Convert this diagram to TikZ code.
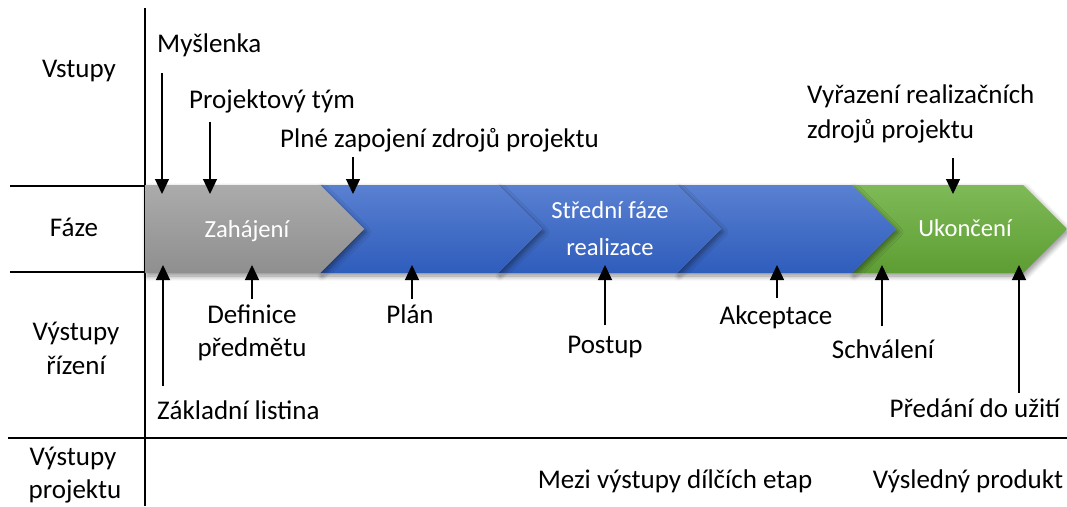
\documentclass[tikz,border=0pt]{standalone}
\usepackage{fontspec}
\setmainfont{Carlito}
\usetikzlibrary{arrows.meta,shadows.blur}

\definecolor{greytop}{HTML}{ABABAB}
\definecolor{greybot}{HTML}{8F8F8F}
\definecolor{bluetop}{HTML}{5A80D1}
\definecolor{bluebot}{HTML}{2E5DBC}
\definecolor{greentop}{HTML}{7EBA57}
\definecolor{greenbot}{HTML}{5E9D33}

\begin{document}
\begin{tikzpicture}[x=1pt,y=-1pt,
  lbl/.style={font=\fontsize{27}{34}\selectfont, inner sep=0pt, text=black},
  phase/.style={font=\fontsize{24.6}{37}\selectfont, inner sep=0pt, text=white},
  gridline/.style={line width=1.2pt, draw=black},
  ptr/.style={line width=1.3pt, draw=black, -{Triangle[width=14pt,length=15pt]}},
  chev/.style={blur shadow={shadow xshift=2pt, shadow yshift=-3pt,
      shadow blur steps=8, shadow blur radius=5pt, shadow opacity=45}},
  greyfill/.style={chev, top color=greytop, bottom color=greybot},
  bluefill/.style={chev, top color=bluetop, bottom color=bluebot},
  greenfill/.style={chev, top color=greentop, bottom color=greenbot}
]
\useasboundingbox (0,0) rectangle (1067,506);

% table frame
\draw[gridline] (145,8) -- (145,506);
\draw[gridline] (10,186) -- (145,186);
\draw[gridline] (10,272) -- (145,272);
\draw[gridline] (8,438) -- (1067,438);

% phase chevrons, drawn right to left so each one lies over the next
\path[greenfill] (852,185) -- (1023,185) -- (1067,229) -- (1023,273) -- (852,273) -- (896,229) -- cycle;
\path[bluefill]  (677,185) -- (852,185) -- (896,229) -- (852,273) -- (677,273) -- (721,229) -- cycle;
\path[bluefill]  (498,185) -- (677,185) -- (721,229) -- (677,273) -- (498,273) -- (542,229) -- cycle;
\path[bluefill]  (320,185) -- (498,185) -- (542,229) -- (498,273) -- (320,273) -- (364,229) -- cycle;
\path[greyfill]  (145,185) -- (320,185) -- (364,229) -- (320,273) -- (145,273) -- cycle;

% phase names
\node[phase, anchor=base] (zah)  at (247,237) {Zahájení};
\node[phase, anchor=base] (str1) at (610,218) {Střední fáze};
\node[phase, anchor=base] (str2) at (610,255) {realizace};
\node[phase, anchor=base] (uko)  at (965,236) {Ukončení};

% row headings
\node[lbl, anchor=base] (vstupy) at (79,77)  {Vstupy};
\node[lbl, anchor=base] (faze)   at (74,236) {Fáze};
\node[lbl, anchor=base] (vyr1)   at (76,340) {Výstupy};
\node[lbl, anchor=base] (vyr2)   at (76,374) {řízení};
\node[lbl, anchor=base] (vyp1)   at (73,465) {Výstupy};
\node[lbl, anchor=base] (vyp2)   at (75,498) {projektu};

% inputs
\node[lbl, anchor=base west] (mys)   at (157,52)  {Myšlenka};
\node[lbl, anchor=base west] (tym)   at (189,108) {Projektový tým};
\node[lbl, anchor=base west] (plne)  at (280,147) {Plné zapojení zdrojů projektu};
\node[lbl, anchor=base west] (vyra)  at (807,103) {Vyřazení realizačních};
\node[lbl, anchor=base west] (vyrb)  at (807,138) {zdrojů projektu};

% management outputs
\node[lbl, anchor=base west] (zakl) at (157,419) {Základní listina};
\node[lbl, anchor=base] (def1)   at (252,323) {Definice};
\node[lbl, anchor=base] (def2)   at (252,356) {předmětu};
\node[lbl, anchor=base] (plan)   at (410,323) {Plán};
\node[lbl, anchor=base] (postup) at (605,353) {Postup};
\node[lbl, anchor=base] (akc)    at (776,324) {Akceptace};
\node[lbl, anchor=base] (schv)   at (883,358) {Schválení};
\node[lbl, anchor=base] (pred)   at (975,417) {Předání do užití};

% project outputs
\node[lbl, anchor=base] (mezi) at (675,488) {Mezi výstupy dílčích etap};
\node[lbl, anchor=base] (vysl) at (968,488) {Výsledný produkt};

% arrow end points
\coordinate (mysA) at (162,73);   \coordinate (mysB) at (162,194);
\coordinate (tymA) at (210,122);  \coordinate (tymB) at (210,194);
\coordinate (plnA) at (353,157);  \coordinate (plnB) at (353,194);
\coordinate (vyrA) at (953,158);  \coordinate (vyrB) at (953,194);
\coordinate (zakA) at (163,386);  \coordinate (zakB) at (163,265);
\coordinate (defA) at (252,299);  \coordinate (defB) at (252,265);
\coordinate (plaA) at (412,299);  \coordinate (plaB) at (412,265);
\coordinate (posA) at (605,325);  \coordinate (posB) at (605,265);
\coordinate (akcA) at (777,298);  \coordinate (akcB) at (777,265);
\coordinate (schA) at (882,326);  \coordinate (schB) at (882,265);
\coordinate (preA) at (1019,393); \coordinate (preB) at (1019,265);

\draw[ptr] (mysA) -- (mysB);
\draw[ptr] (tymA) -- (tymB);
\draw[ptr] (plnA) -- (plnB);
\draw[ptr] (vyrA) -- (vyrB);
\draw[ptr] (zakA) -- (zakB);
\draw[ptr] (defA) -- (defB);
\draw[ptr] (plaA) -- (plaB);
\draw[ptr] (posA) -- (posB);
\draw[ptr] (akcA) -- (akcB);
\draw[ptr] (schA) -- (schB);
\draw[ptr] (preA) -- (preB);
\end{tikzpicture}
\end{document}
